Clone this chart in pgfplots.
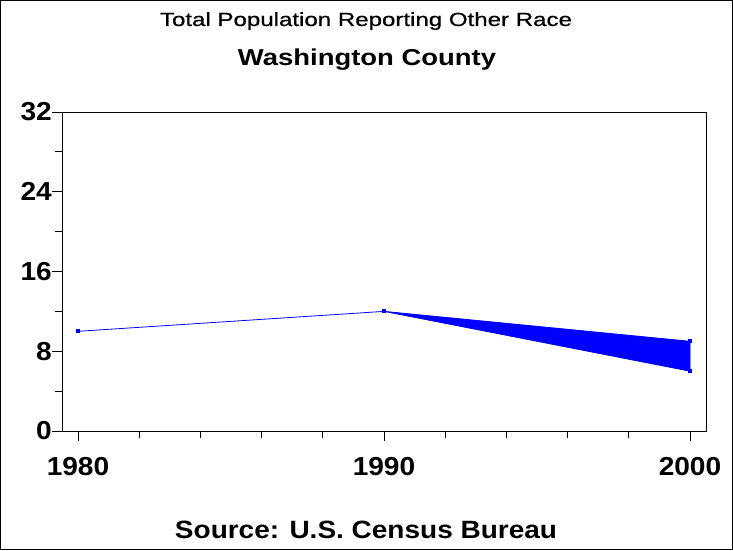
\documentclass[border=0pt]{standalone}
\usepackage{pgfplots}
\pgfplotsset{compat=1.18}
\usepackage{graphicx}
\usepackage{fontspec}
\setmainfont{Liberation Sans}
\newfontfamily\tickfont[FakeStretch=1.08]{Liberation Sans}
\newfontfamily\titlefont[FakeBold=0.6]{Liberation Sans}

\begin{document}
\begin{tikzpicture}[x=1pt,y=1pt]
% outer frame
\draw[line width=1pt] (0.5,0.5) rectangle (732.5,549.5);
% titles
\node[anchor=base, inner sep=0pt] at (366,524)
  {\resizebox{412pt}{\height}{\titlefont\fontsize{19}{19}\selectfont Total Population Reporting Other Race}};
\node[anchor=base, inner sep=0pt] at (367,484)
  {\resizebox{258pt}{\height}{\fontsize{23}{23}\selectfont\bfseries Washington County}};
\node[anchor=base, inner sep=0pt] at (366,12)
  {\resizebox{382pt}{\height}{\fontsize{25}{25}\selectfont\bfseries Source: U.S. Census Bureau}};

\begin{axis}[
  at={(62pt,119pt)}, anchor=south west,
  scale only axis, width=644pt, height=319pt,
  xmin=1979.477, xmax=2000.523, ymin=0, ymax=32,
  xtick={1980,1990,2000},
  minor xtick={1982,1984,1986,1988,1992,1994,1996,1998},
  ytick={0,8,16,24,32}, minor ytick={4,12,20,28},
  tick align=outside, xtick pos=bottom, ytick pos=left,
  major tick length=10pt, minor tick length=7pt,
  axis line style={line width=1pt},
  every tick/.style={black, line width=1pt},
  /pgf/number format/assume math mode=true,
  /pgf/number format/1000 sep={},
  tick label style={font=\tickfont\bfseries\fontsize{26}{26}\selectfont},
  yticklabel style={anchor=east, inner sep=0pt, xshift=0pt},
  xticklabel style={anchor=north, inner sep=0pt, yshift=-16pt},
]
\addplot[blue, line width=0.8pt, mark=square*, mark size=1.5pt]
  coordinates {(1980,10) (1990,12)};
\addplot[blue, fill=blue, line width=0.8pt, mark=square*, mark size=1.5pt]
  coordinates {(1990,12) (2000,9) (2000,6)} -- cycle;
\end{axis}
\end{tikzpicture}
\end{document}
